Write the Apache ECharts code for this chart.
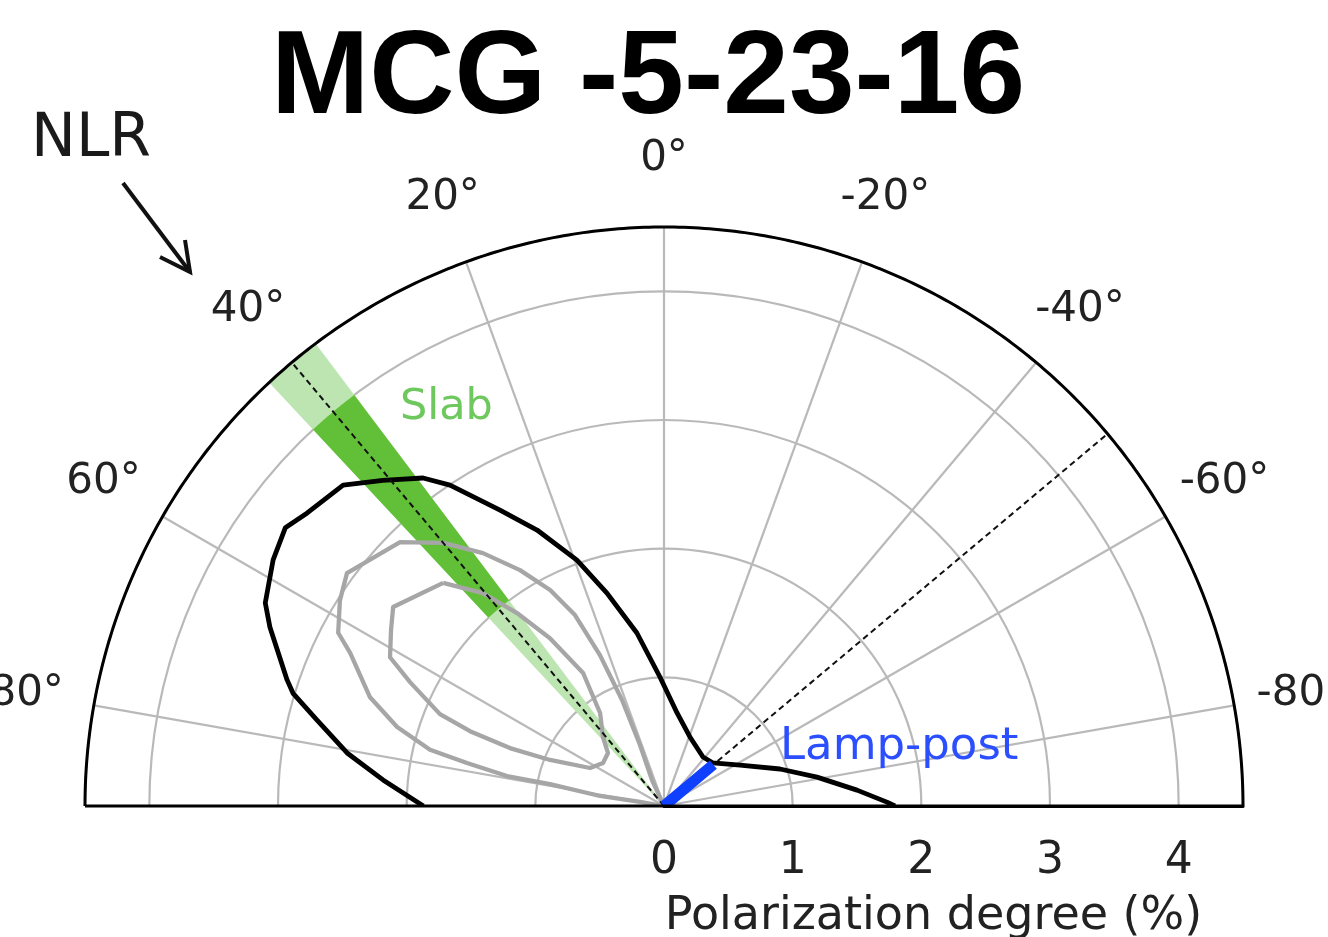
<!DOCTYPE html>
<html><head><meta charset="utf-8">
<script src="https://cdn.jsdelivr.net/npm/echarts/dist/echarts.min.js"></script>
<style>html,body{margin:0;padding:0;background:#fff}#c{width:1328px;height:937px}</style>
</head><body><div id="c"></div>
<script>
// ---------------- data ----------------
const titleText = 'MCG -5-23-16';
const axisName = 'Polarization degree (%)';
const angleMin = -90, angleMax = 90;           // polarization angle (deg)
const degreeMax = 4.5;                          // polarization degree (%)
const angleLabelTicks = [-80, -60, -40, -20, 0, 20, 40, 60, 80];
const spokeAngles = [-80, -60, -40, -20, 0, 20, 40, 60, 80];
const angleLabelRadius = 5.03;

// contours, each point = [degree %, angle deg]
const contourBlack = [
  [1.87, 90], [2.193, 84.7], [2.497, 80.5], [2.778, 76.1], [3.013, 73.1], [3.089, 71.5],
  [3.363, 65.6], [3.478, 63.0], [3.590, 57.8], [3.652, 53.7], [3.588, 50.6], [3.527, 45.0],
  [3.344, 40.8], [3.163, 36.3], [2.998, 33.7], [2.629, 29.0], [2.361, 24.7], [2.027, 19.5],
  [1.713, 15.0], [1.361, 8.9], [1.003, 1.8], [0.730, -8.0], [0.573, -20.6], [0.487, -38.5],
  [0.507, -48.7], [0.671, -61.7], [0.946, -72.3], [1.210, -79.3], [1.505, -85.3],
  [1.733, -89.0], [1.795, -90]
];
const contourGrayOuter = [
  [0, 80], [0.189, 80.5], [0.503, 81.1], [0.902, 79.1], [1.242, 79.2], [1.567, 77.7],
  [1.870, 76.5], [2.163, 73.5], [2.436, 69.7], [2.714, 64.0], [2.868, 62.0], [2.983, 57.6],
  [3.057, 53.7], [2.901, 45.0], [2.669, 40.0], [2.417, 35.6], [2.148, 31.4], [1.898, 27.8],
  [1.637, 25.0], [1.274, 23.0], [0.886, 21.6], [0.509, 21.5], [0.222, 24.8], [0, 25]
];
const contourGrayInner = [
  [2.440, 44.7], [2.172, 40.4], [1.885, 37.3], [1.577, 34.2], [1.210, 31.3], [0.877, 34.5],
  [0.716, 41.5], [0.599, 46.6], [0.580, 54.8], [0.646, 62.8], [0.955, 68.0], [1.279, 69.4],
  [1.616, 68.9], [1.882, 67.7], [2.196, 64.0], [2.423, 61.5], [2.524, 57.2], [2.612, 53.7],
  [2.440, 44.7]
];
// slab model: angle, half width, degree ranges
const slabAngle = 40, slabHalfWidth = 3;
const slabDegreeFull = [0, 4.5];
const slabDegreeCore = [2.0, 4.0];
// lamp-post model
const lampAngle = -50;
const lampDegree = [0, 0.5];

// ---------------- chart ----------------
const chart = echarts.init(document.getElementById('c'));
const GRID = '#b9b9b9';
const FONT = 'DejaVu Sans';

function wedgeRender(color) {
  return function (params, api) {
    const r0 = api.value(0), a = api.value(1), r1 = api.value(2), hw = api.value(3);
    const pts = [];
    for (let t = a - hw; t <= a + hw + 1e-9; t += 0.25) pts.push(api.coord([r1, t]));
    if (r0 <= 0) pts.push(api.coord([0, a]));
    else for (let t = a + hw; t >= a - hw - 1e-9; t -= 0.25) pts.push(api.coord([r0, t]));
    return { type: 'polygon', shape: { points: pts }, style: { fill: color }, silent: true };
  };
}

const option = {
  animation: false,
  backgroundColor: '#fff',
  title: {
    text: titleText, left: 271, top: 21, padding: 0,
    textStyle: { fontFamily: 'Liberation Sans', fontWeight: 'bold', fontSize: 118, color: '#000' }
  },
  polar: { center: [664, 806], radius: 579 },
  angleAxis: {
    type: 'value', min: angleMin, max: angleMax, startAngle: 0, endAngle: 180, clockwise: false,
    axisLine: { show: false }, axisTick: { show: false }, axisLabel: { show: false },
    splitLine: { show: false }
  },
  radiusAxis: {
    type: 'value', min: 0, max: degreeMax, interval: 1,
    axisLine: { show: true, lineStyle: { color: '#000', width: 3 } },
    axisTick: { show: false },
    axisLabel: { show: true, fontSize: 44, color: '#222', fontFamily: FONT, margin: -56,
      verticalAlign: 'middle', showMaxLabel: false },
    splitLine: { show: true, lineStyle: { color: GRID, width: 2.2 } },
    name: axisName, nameLocation: 'middle', nameGap: 88,
    nameTextStyle: { fontSize: 46, color: '#222', fontFamily: FONT, padding: [0, 40, 0, 0] }
  },
  graphic: [
    { type: 'text', x: 31, y: 140, style: { text: 'NLR', fontSize: 60, fontFamily: FONT, fill: '#1a1a1a', align: 'left', verticalAlign: 'middle' } },
    { type: 'polyline', shape: { points: [[123, 183], [190, 272]] }, style: { stroke: '#111', lineWidth: 4, fill: null } },
    { type: 'polyline', shape: { points: [[160, 257], [190, 272], [185, 240]] }, style: { stroke: '#111', lineWidth: 4, fill: null } },
    { type: 'text', x: 400, y: 408, z: 100, style: { text: 'Slab', fontSize: 43, fontFamily: FONT, fill: '#6ec85e', align: 'left', verticalAlign: 'middle' } },
    { type: 'text', x: 780, y: 747, z: 100, style: { text: 'Lamp-post', fontSize: 45, fontFamily: FONT, fill: '#2b4eff', align: 'left', verticalAlign: 'middle' } }
  ],
  series: [
    { // grid spokes
      type: 'custom', coordinateSystem: 'polar', z: 1, silent: true,
      data: spokeAngles.map(a => [degreeMax, a]),
      renderItem: (params, api) => {
        const p0 = api.coord([0, api.value(1)]), p1 = api.coord([api.value(0), api.value(1)]);
        return { type: 'line', shape: { x1: p0[0], y1: p0[1], x2: p1[0], y2: p1[1] }, style: { stroke: GRID, lineWidth: 2.2 } };
      }
    },
    { // slab full range (light)
      type: 'custom', coordinateSystem: 'polar', z: 2, silent: true,
      data: [[slabDegreeFull[0], slabAngle, slabDegreeFull[1], slabHalfWidth]],
      renderItem: wedgeRender('#bde5b1')
    },
    { // slab core range (dark)
      type: 'custom', coordinateSystem: 'polar', z: 3, silent: true,
      data: [[slabDegreeCore[0], slabAngle, slabDegreeCore[1], slabHalfWidth]],
      renderItem: wedgeRender('#62c038')
    },
    { type: 'line', coordinateSystem: 'polar', z: 4, silent: true, clip: false, symbol: 'none',
      data: contourGrayOuter, lineStyle: { color: '#a6a6a6', width: 4.3, join: 'round' } },
    { type: 'line', coordinateSystem: 'polar', z: 4, silent: true, clip: false, symbol: 'none',
      data: contourGrayInner, lineStyle: { color: '#a6a6a6', width: 4.3, join: 'round' } },
    { type: 'line', coordinateSystem: 'polar', z: 5, silent: true, clip: false, symbol: 'none',
      data: contourBlack, lineStyle: { color: '#000', width: 4.8, join: 'round' } },
    { type: 'line', coordinateSystem: 'polar', z: 6, silent: true, clip: false, symbol: 'none',
      data: [[0, slabAngle], [degreeMax, slabAngle]], lineStyle: { color: '#111', width: 2, type: [6, 4] } },
    { type: 'line', coordinateSystem: 'polar', z: 6, silent: true, clip: false, symbol: 'none',
      data: [[0, lampAngle], [degreeMax, lampAngle]], lineStyle: { color: '#111', width: 2, type: [6, 4] } },
    { // lamp-post band
      type: 'line', coordinateSystem: 'polar', z: 7, silent: true, clip: false, symbol: 'none',
      data: [[lampDegree[0], lampAngle], [lampDegree[1], lampAngle]],
      lineStyle: { color: '#1040ff', width: 11, cap: 'butt' }
    },
    { // frame: outer arc + baseline
      type: 'custom', coordinateSystem: 'polar', z: 8, silent: true,
      data: [[degreeMax, 0]],
      renderItem: (params, api) => {
        const r = api.value(0), pts = [];
        for (let t = angleMin; t <= angleMax; t += 0.5) pts.push(api.coord([r, t]));
        const a = api.coord([r, angleMax]), b = api.coord([r, angleMin]);
        return { type: 'group', children: [
          { type: 'polyline', shape: { points: pts }, style: { stroke: '#000', lineWidth: 3, fill: null } },
          { type: 'line', shape: { x1: a[0], y1: a[1], x2: b[0], y2: b[1] }, style: { stroke: '#000', lineWidth: 3 } }
        ] };
      }
    },
    { // angle tick labels
      type: 'custom', coordinateSystem: 'polar', z: 9, silent: true,
      data: angleLabelTicks.map(a => [angleLabelRadius, a]),
      renderItem: (params, api) => {
        const p = api.coord([api.value(0), api.value(1)]);
        return { type: 'text', x: p[0], y: p[1], style: { text: api.value(1) + '°', fontSize: 42,
          fontFamily: FONT, fill: '#222', align: 'center', verticalAlign: 'middle' } };
      }
    }
  ]
};
chart.setOption(option);
</script></body></html>
